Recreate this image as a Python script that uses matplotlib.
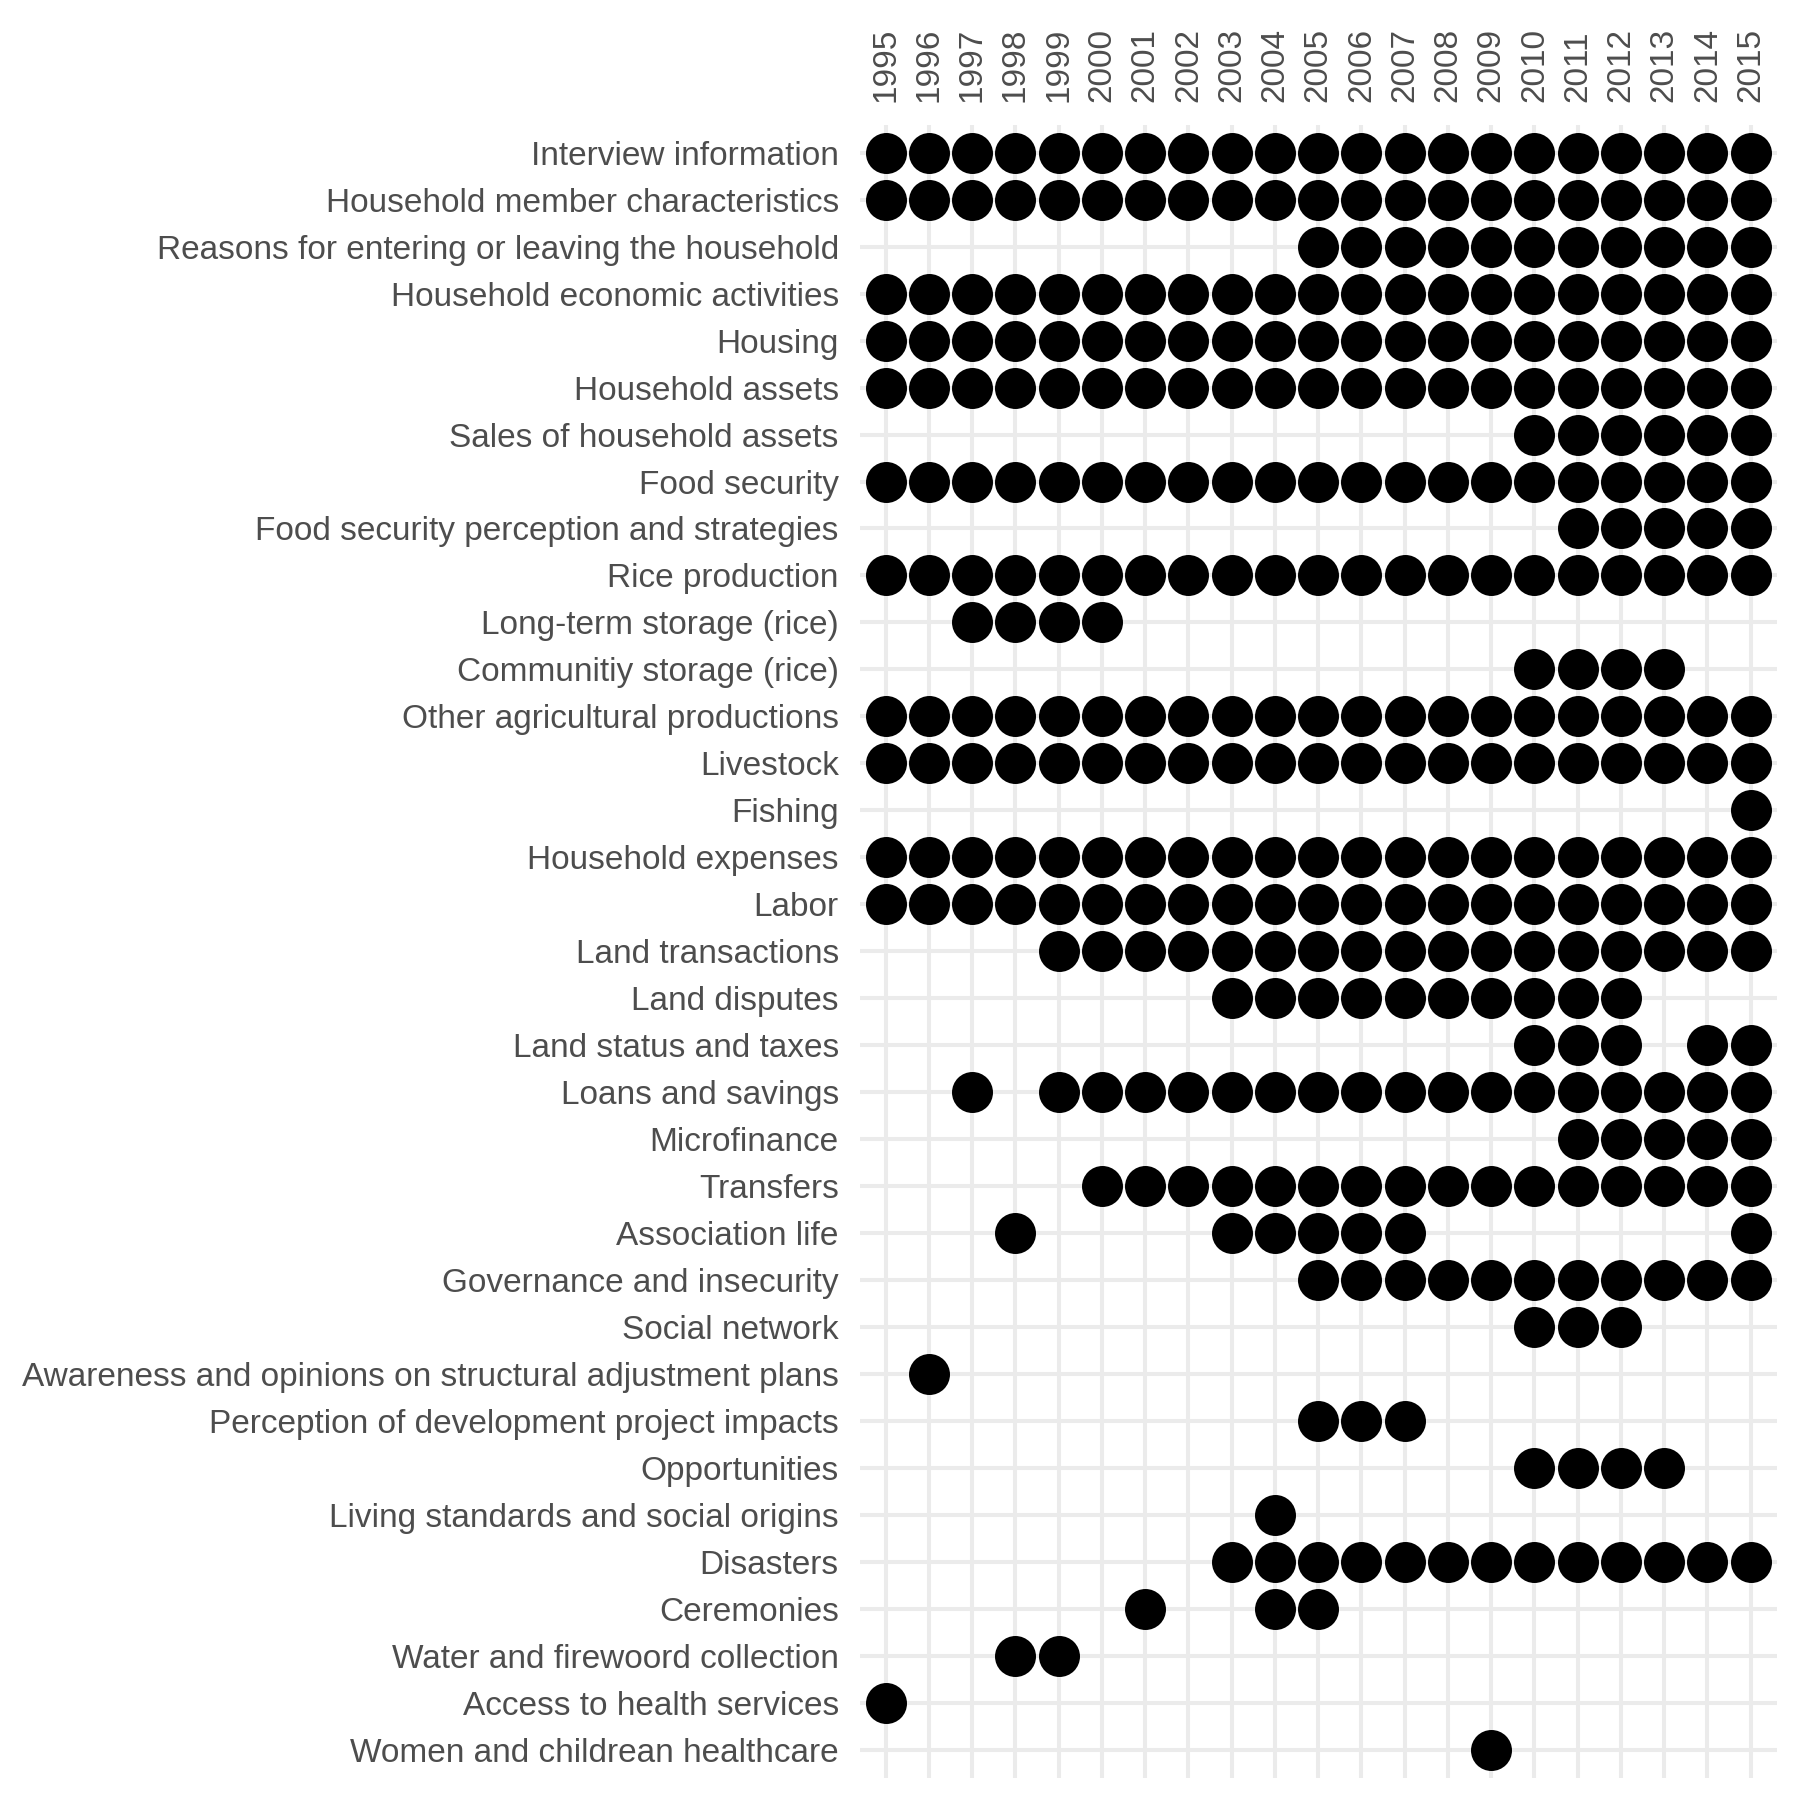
import matplotlib
matplotlib.use("Agg")
import matplotlib.pyplot as plt
import numpy as np

plt.rcParams['font.family'] = ['Liberation Sans', 'DejaVu Sans']

years = [1995, 1996, 1997, 1998, 1999, 2000, 2001, 2002, 2003, 2004, 2005,
         2006, 2007, 2008, 2009, 2010, 2011, 2012, 2013, 2014, 2015]

modules = [
    "Interview information",
    "Household member characteristics",
    "Reasons for entering or leaving the household",
    "Household economic activities",
    "Housing",
    "Household assets",
    "Sales of household assets",
    "Food security",
    "Food security perception and strategies",
    "Rice production",
    "Long-term storage (rice)",
    "Communitiy storage (rice)",
    "Other agricultural productions",
    "Livestock",
    "Fishing",
    "Household expenses",
    "Labor",
    "Land transactions",
    "Land disputes",
    "Land status and taxes",
    "Loans and savings",
    "Microfinance",
    "Transfers",
    "Association life",
    "Governance and insecurity",
    "Social network",
    "Awareness and opinions on structural adjustment plans",
    "Perception of development project impacts",
    "Opportunities",
    "Living standards and social origins",
    "Disasters",
    "Ceremonies",
    "Water and firewoord collection",
    "Access to health services",
    "Women and childrean healthcare",
]

# one char per year (1995..2015): X = module present in that survey round
presence = [
    "XXXXXXXXXXXXXXXXXXXXX",
    "XXXXXXXXXXXXXXXXXXXXX",
    "..........XXXXXXXXXXX",
    "XXXXXXXXXXXXXXXXXXXXX",
    "XXXXXXXXXXXXXXXXXXXXX",
    "XXXXXXXXXXXXXXXXXXXXX",
    "...............XXXXXX",
    "XXXXXXXXXXXXXXXXXXXXX",
    "................XXXXX",
    "XXXXXXXXXXXXXXXXXXXXX",
    "..XXXX...............",
    "...............XXXX..",
    "XXXXXXXXXXXXXXXXXXXXX",
    "XXXXXXXXXXXXXXXXXXXXX",
    "....................X",
    "XXXXXXXXXXXXXXXXXXXXX",
    "XXXXXXXXXXXXXXXXXXXXX",
    "....XXXXXXXXXXXXXXXXX",
    "........XXXXXXXXXX...",
    "...............XXX.XX",
    "..X.XXXXXXXXXXXXXXXXX",
    "................XXXXX",
    ".....XXXXXXXXXXXXXXXX",
    "...X....XXXXX.......X",
    "..........XXXXXXXXXXX",
    "...............XXX...",
    ".X...................",
    "..........XXX........",
    "...............XXXX..",
    ".........X...........",
    "........XXXXXXXXXXXXX",
    "......X..XX..........",
    "...XX................",
    "X....................",
    "..............X......",
]

xs, ys = [], []
for i, row in enumerate(presence):
    for j, c in enumerate(row):
        if c == "X":
            xs.append(j)
            ys.append(i)

txt_col = "#4D4D4D"
grid_col = "#EBEBEB"

fig = plt.figure(figsize=(18, 18), dpi=100)
fig.patch.set_facecolor("white")
ax = fig.add_axes([0.4776, 0.0123, 0.5094, 0.9185])

ax.scatter(xs, ys, s=871, marker="o", color="black", linewidths=0, zorder=3)

ax.set_xlim(-0.6, len(years) - 0.4)
ax.set_ylim(len(modules) - 0.4, -0.6)

ax.set_xticks(np.arange(len(years)))
ax.set_xticklabels([str(y) for y in years], rotation=90)
ax.set_yticks(np.arange(len(modules)))
ax.set_yticklabels(modules)
ax.xaxis.tick_top()
ax.tick_params(axis="x", length=0, pad=16, labelsize=24, labelcolor=txt_col)
ax.tick_params(axis="y", length=0, pad=15, labelsize=24, labelcolor=txt_col)

ax.grid(True, color=grid_col, linewidth=2.9, zorder=0)
ax.set_axisbelow(True)
for sp in ax.spines.values():
    sp.set_visible(False)

fig.savefig("out.png", dpi=100, facecolor="white")
